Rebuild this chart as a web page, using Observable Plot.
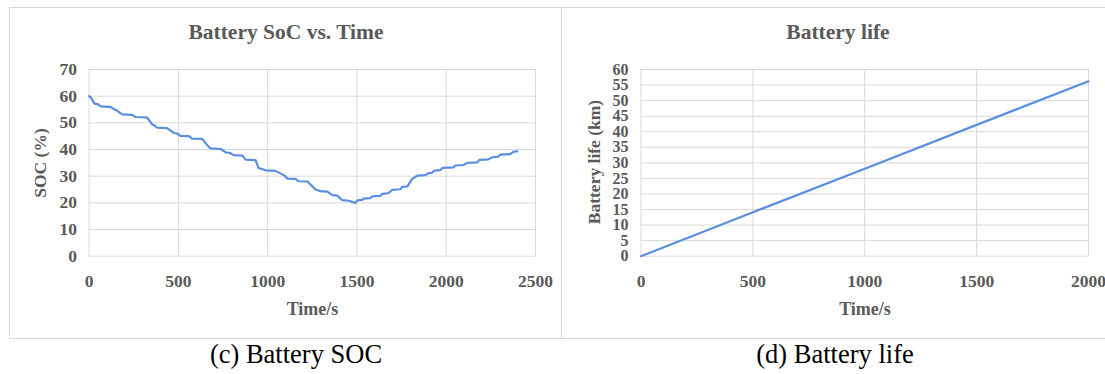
<!DOCTYPE html>
<html>
<head>
<meta charset="utf-8">
<script src="https://cdn.jsdelivr.net/npm/d3@7"></script>
<script src="https://cdn.jsdelivr.net/npm/@observablehq/plot@0.6"></script>
<style>
  html, body { margin: 0; padding: 0; background: #fff; }
  #page { position: relative; width: 1105px; height: 374px; overflow: hidden; background: #fff; }
  .panel { position: absolute; box-sizing: border-box; border: 1px solid #d9d9d9; }
  .txt { position: absolute; white-space: nowrap; line-height: 1; font-family: "Liberation Serif", "Times New Roman", serif; }
  .title { font-size: 21.5px; font-weight: bold; color: #595959; transform: translateX(-50%); }
  .axt { font-size: 18px; font-weight: bold; color: #595959; transform: translateX(-50%); }
  .ayt { font-size: 17.5px; font-weight: bold; color: #595959; transform: translate(-50%, -50%) rotate(-90deg); }
  .cap { font-size: 26.5px; color: #000; transform: translateX(-50%); }
  .plotbox { position: absolute; }
  .plotbox svg { max-width: none !important; overflow: visible; }
</style>
</head>
<body>
<div id="page">
  <div class="panel" style="left:9px; top:7px; width:553px; height:332px;"></div>
  <div class="panel" style="left:561px; top:7px; width:560px; height:332px;"></div>

  <div class="txt title" style="left:286px; top:21.5px;">Battery SoC vs. Time</div>
  <div class="txt title" style="left:838px; top:21.5px;">Battery life</div>

  <div class="plotbox" id="soc" style="left:9px; top:50px; width:552px; height:250px;"></div>
  <div class="plotbox" id="life" style="left:561px; top:50px; width:544px; height:250px;"></div>

  <div class="txt ayt" style="left:41px; top:163px;">SOC (%)</div>
  <div class="txt ayt" style="left:595px; top:162px;">Battery life (km)</div>

  <div class="txt axt" style="left:312.5px; top:300px;">Time/s</div>
  <div class="txt axt" style="left:865px; top:300px;">Time/s</div>

  <div class="txt cap" style="left:296px; top:341px;">(c) Battery SOC</div>
  <div class="txt cap" style="left:835px; top:341px;">(d) Battery life</div>
</div>
<script>
// ---- Data: Battery SoC vs. Time ----
const socTime = [0, 10, 30, 48, 64, 120, 143, 156, 185, 241, 260, 325, 353, 362, 381, 437, 475, 493, 512, 559,
  577, 633, 670, 681, 737, 765, 790, 809, 859, 876, 932, 949, 989, 1045, 1094, 1112, 1156, 1173, 1223, 1268,
  1296, 1334, 1363, 1390, 1418, 1454, 1490, 1505, 1530, 1537, 1575, 1586, 1630, 1642, 1676, 1698, 1743, 1754,
  1783, 1809, 1828, 1838, 1883, 1900, 1920, 1935, 1967, 1980, 2041, 2051, 2097, 2119, 2175, 2186, 2236, 2258,
  2292, 2303, 2359, 2377, 2398];
const socValue = [60, 59.5, 57.2, 57, 56.2, 56, 55, 54.6, 53.2, 53, 52.2, 52, 49.4, 49.2, 48.2, 48, 46.2, 46, 45.1, 45,
  44.1, 44, 41, 40.4, 40.2, 38.9, 38.7, 37.9, 37.7, 36.2, 36, 33.1, 32.2, 32, 30.2, 29.1, 29, 28.1, 28, 25,
  24.4, 24.2, 22.9, 22.7, 21, 20.8, 20, 21, 21.1, 21.6, 21.8, 22.4, 22.6, 23.4, 23.6, 24.9, 25.1, 26,
  26.2, 29, 29.8, 30.2, 30.4, 31.1, 31.3, 32.1, 32.3, 33.1, 33.3, 34, 34.2, 35, 35.2, 36.1, 36.3, 37.1,
  37.3, 38.1, 38.3, 39.2, 39.3];
const socXTicks = [0, 500, 1000, 1500, 2000, 2500];
const socYTicks = [0, 10, 20, 30, 40, 50, 60, 70];

// ---- Data: Battery life ----
const lifeTime = [0, 500, 1000, 1500, 2000];
const lifeKm = [0, 14.1, 28.1, 42.2, 56.2];
const lifeXTicks = [0, 500, 1000, 1500, 2000];
const lifeYTicks = [0, 5, 10, 15, 20, 25, 30, 35, 40, 45, 50, 55, 60];

const socData = socTime.map((t, i) => ({t, v: socValue[i]}));
const lifeData = lifeTime.map((t, i) => ({t, v: lifeKm[i]}));

const lineColor = "#5a8fe0";
const gridColor = "#d9d9d9";
const fmt = d => String(d);
const baseStyle = {
  fontFamily: "'Liberation Serif', 'Times New Roman', serif",
  fontSize: "17.5px",
  fontWeight: "bold",
  color: "#595959",
  background: "transparent",
  overflow: "visible"
};

const socPlot = Plot.plot({
  width: 552, height: 250,
  marginLeft: 79.6, marginRight: 26, marginTop: 19, marginBottom: 44.3,
  style: baseStyle,
  x: {domain: [0, 2500]},
  y: {domain: [0, 70]},
  marks: [
    Plot.gridX(socXTicks, {stroke: gridColor, strokeOpacity: 1, strokeWidth: 1}),
    Plot.gridY(socYTicks, {stroke: gridColor, strokeOpacity: 1, strokeWidth: 1}),
    Plot.axisX(socXTicks, {tickSize: 0, tickPadding: 18, label: null, fontSize: 17.5, tickFormat: fmt}),
    Plot.axisY(socYTicks, {tickSize: 0, tickPadding: 12, label: null, fontSize: 17.5, tickFormat: fmt}),
    Plot.line(socData, {x: "t", y: "v", stroke: lineColor, strokeWidth: 2.2})
  ]
});
document.getElementById("soc").appendChild(socPlot);

const lifePlot = Plot.plot({
  width: 544, height: 250,
  marginLeft: 79.5, marginRight: 17, marginTop: 19, marginBottom: 44.3,
  style: baseStyle,
  x: {domain: [0, 2000]},
  y: {domain: [0, 60]},
  marks: [
    Plot.gridX(lifeXTicks, {stroke: gridColor, strokeOpacity: 1, strokeWidth: 1}),
    Plot.gridY(lifeYTicks, {stroke: gridColor, strokeOpacity: 1, strokeWidth: 1}),
    Plot.axisX(lifeXTicks, {tickSize: 0, tickPadding: 18, label: null, fontSize: 17.5, tickFormat: fmt}),
    Plot.axisY(lifeYTicks, {tickSize: 0, tickPadding: 12.5, label: null, fontSize: 16, tickFormat: fmt}),
    Plot.line(lifeData, {x: "t", y: "v", stroke: lineColor, strokeWidth: 2.2})
  ]
});
document.getElementById("life").appendChild(lifePlot);
</script>
</body>
</html>
